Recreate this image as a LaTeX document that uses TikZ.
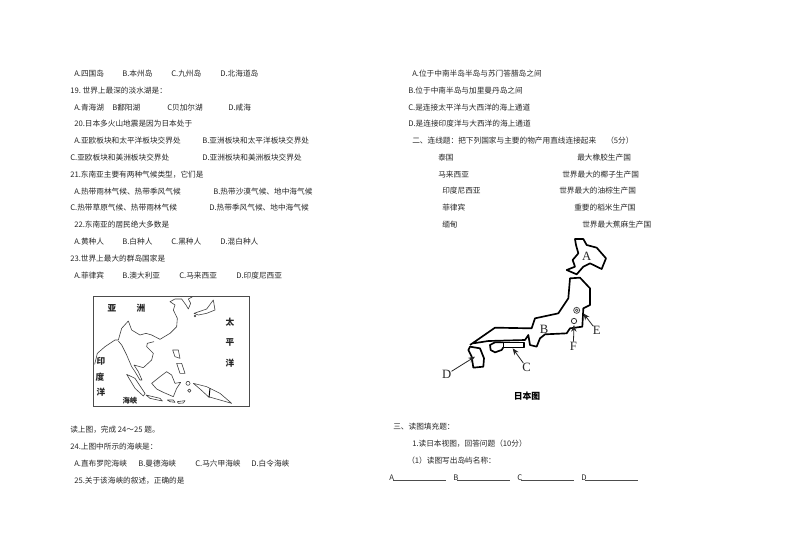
\documentclass[tikz,border=0pt]{standalone}
\usepackage{fontspec}
\setmainfont{Noto Sans CJK SC}
\newfontfamily\latinserif{Liberation Serif}
\usetikzlibrary{arrows.meta}
\tikzset{
  x=.75pt,y=-.75pt,
  txt/.style={anchor=west,inner sep=0pt,font=\fontsize{5.75pt}{6pt}\selectfont,text=black!85},
  ocean/.style={inner sep=0pt,font=\bfseries\fontsize{6.5pt}{7pt}\selectfont,text=black!85},
  coast/.style={draw=black!75,line width=.45pt,line join=round},
  isle/.style={draw=black,line width=1.25pt,line join=round},
  mapletter/.style={inner sep=0pt,font=\latinserif\fontsize{9.5pt}{10pt}\selectfont,text=black!85},
  ptr/.style={draw=black!85,line width=.6pt,-{Stealth[length=5pt,width=4pt]}},
  fill line/.style={draw=black!70,line width=.4pt}
}
\begin{document}
\begin{tikzpicture}
\useasboundingbox (0,0) rectangle (794,550);
% left column
\foreach \px/\py/\t in {
74/73.6/A.四国岛,122/73.6/B.本州岛,171/73.6/C.九州岛,220/73.6/D.北海道岛,
70/90.6/19.\ 世界上最深的淡水湖是：,
74/107.6/A.青海湖,112/107.6/B鄱阳湖,167/107.6/C贝加尔湖,228/107.6/D.咸海,
74/123.6/20.日本多火山地震是因为日本处于,
74/140.6/A.亚欧板块和太平洋板块交界处,202/140.6/B.亚洲板块和太平洋板块交界处,
70/157.6/C.亚欧板块和美洲板块交界处,202/157.6/D.亚洲板块和美洲板块交界处,
70/174.6/21.东南亚主要有两种气候类型，它们是,
74/191.6/A.热带雨林气候、热带季风气候,213/191.6/B.热带沙漠气候、地中海气候,
70/207.6/C.热带草原气候、热带雨林气候,209/207.6/D.热带季风气候、地中海气候,
74/224.6/22.东南亚的居民绝大多数是,
74/241.6/A.黄种人,122/241.6/B.白种人,171/241.6/C.黑种人,220/241.6/D.混白种人,
70/258.6/23.世界上最大的群岛国家是,
74/275.6/A.菲律宾,122/275.6/B.澳大利亚,179/275.6/C.马来西亚,236/275.6/D.印度尼西亚,
70/429.6/读上图，完成 24～25 题。,
70/446.6/24.上图中所示的海峡是：,
74/463.6/A.直布罗陀海峡,138/463.6/B.曼德海峡,195/463.6/C.马六甲海峡,251/463.6/D.白令海峡,
74/480.6/25.关于该海峡的叙述，正确的是,
% right column
412/73.6/A.位于中南半岛半岛与苏门答腊岛之间,
408/90.6/B.位于中南半岛与加里曼丹岛之间,
408/107.6/C.是连接太平洋与大西洋的海上通道,
408/123.6/D.是连接印度洋与大西洋的海上通道,
412/140.6/二、连线题：把下列国家与主要的物产用直线连接起来,606/140.6/（5分）,
438/157.6/泰国,577/157.6/最大橡胶生产国,
438/174.6/马来西亚,562/174.6/世界最大的椰子生产国,
442/190.6/印度尼西亚,559/190.6/世界最大的油棕生产国,
442/207.6/菲律宾,574/207.6/重要的稻米生产国,
442/224.6/缅甸,582/224.6/世界最大蕉麻生产国,
393/426.6/三、读图填充题：,
412/443.6/1.读日本视图，回答问题（10分）,
407/460.6/（1）读图写出岛屿名称：,
389/477.6/A,453/477.6/B,517/477.6/C,581/477.6/D}
  {\node[txt] at (\px,\py) {\t};}
\foreach \a/\b in {393/446,457/510,521/574,585/638}
  \draw[fill line] (\a,480) -- (\b,480);

% Southeast Asia map
\draw[draw=black!70,line width=.7pt] (93,296) rectangle (249,406);
\foreach \px/\py/\t in {112/308/亚,141/308/洲,230/322/太,230/342/平,230/363/洋,101/361/印,100/377/度,101/392/洋}
  {\node[ocean] at (\px,\py) {\t};}
\node[inner sep=0pt,font=\bfseries\fontsize{5.5pt}{6pt}\selectfont,text=black!85] at (130,401) {海峡};
\begin{scope}[xshift=45pt,yshift=-213.75pt,x=.25pt,y=-.25pt]
\draw[coast] (104,238)--(112,205)--(135,185)--(165,165)--(175,165)--(185,130)--(205,108)--(215,135)--(240,150)--(258,145)--(275,150)--(300,163)--(330,145)--(350,125)--(352,100)--(340,75)--(345,60)--(330,50)--(345,42)--(365,42)--(378,60)--(385,72)--(392,55)--(385,42)--(398,35);
\draw[coast] (175,168)--(185,180)--(200,210)--(215,245)--(225,260)--(240,285)--(246,285)--(235,260)--(222,240)--(250,248)--(275,225)--(280,205)--(260,185)--(262,175)--(282,170);
\draw[coast] (200,268)--(225,280)--(255,325)--(250,333)--(225,310)--cycle;
\draw[coast] (258,330)--(300,340)--(307,348)--(270,340)--cycle;
\draw[coast] (275,295)--(300,275)--(320,260)--(335,270)--(345,295)--(362,292)--(350,310)--(340,335)--(310,322)--(290,312)--cycle;
\draw[coast] (338,195)--(355,195)--(360,220)--(345,215)--cycle;
\draw[coast] (350,235)--(365,235)--(375,265)--(360,265)--cycle;
\draw[coast] (400,295)--(440,305)--(480,325)--(515,355)--(480,345)--(445,335)--(420,312)--cycle;
\draw[black,line width=.7pt] (450,310)--(447,338);
\draw[coast] (402,85)--(440,72)--(460,45)--(465,75)--(440,85)--(415,90)--cycle;
\draw[coast] (384,295) circle[radius=6];
\draw[coast] (388,317) circle[radius=5];
\draw[coast] (405,93) circle[radius=3];
\draw[coast] (322,345)--(340,345)--(345,352)--(330,350)--cycle;
\draw[coast] (352,350)--(375,347)--(370,354)--(355,355)--cycle;
\end{scope}

% Japan map
\begin{scope}[xshift=315pt,yshift=-176.25pt,x=.25pt,y=-.25pt]
\draw[isle] (465,12)--(490,12)--(500,30)--(530,38)--(558,70)--(545,102)--(510,85)--(490,95)--(470,118)--(440,105)--(465,95)--(458,75)--(475,55)--(468,30)--cycle;
\draw[isle] (150,330)--(225,278)--(335,280)--(345,250)--(415,235)--(445,190)--(450,130)--(480,128)--(510,160)--(510,210)--(490,220)--(487,275)--(450,280)--(440,295)--(375,298)--(360,310)--(350,335)--(330,330)--(325,300)--(315,315)--(205,318)--(160,325);
\draw[isle] (250,322)--(312,322)--(312,337)--(250,337)--cycle;
\draw[isle] (250,322)--(225,322)--(210,330)--(212,345)--(225,352)--(245,345)--(250,337);
\draw[isle] (150,335)--(180,340)--(192,370)--(190,395)--(160,398)--(155,365)--(145,345)--cycle;
\draw[black!70,line width=.6pt] (470,226) circle[radius=9];
\draw[black!70,line width=.5pt] (470,226) circle[radius=4];
\draw[black!80,line width=.6pt] (462,258) circle[radius=8];
\node[mapletter] (labA) at (500,65) {A};
\node[mapletter] (labB) at (372,282) {B};
\node[mapletter] (labC) at (320,398) {C};
\node[mapletter] (labD) at (80,418) {D};
\node[mapletter] (labE) at (530,287) {E};
\node[mapletter] (labF) at (460,333) {F};
\coordinate (tipC) at (278,340);
\coordinate (tipD) at (165,365);
\coordinate (tipE) at (490,235);
\coordinate (tipF) at (462,270);
\draw[ptr] (labC) -- (tipC);
\draw[ptr] (labD) -- (tipD);
\draw[ptr] (labE) -- (tipE);
\draw[ptr] (labF) -- (tipF);
\end{scope}
\node[inner sep=0pt,font=\bfseries\fontsize{6.6pt}{7pt}\selectfont] (cap) at (527,396) {日本图};
\end{tikzpicture}
\end{document}
